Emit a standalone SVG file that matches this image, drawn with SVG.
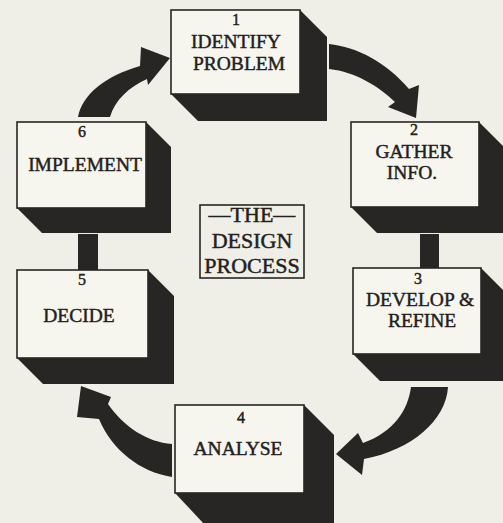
<svg xmlns="http://www.w3.org/2000/svg" width="503" height="523" viewBox="0 0 503 523">
<style>
.bg{fill:#efefe7}
.sh{fill:#282624}
.fr{fill:#f6f6ef;stroke:#282624;stroke-width:1.6}
.cn{fill:#282624}
text{font-family:"Liberation Serif","Times New Roman",serif;fill:#232120;stroke:#232120;stroke-width:0.45;text-anchor:middle}
.num{font-size:16px}
.lb{font-size:19.5px}
.ct{font-size:22px}
</style>
<rect class="bg" x="0" y="0" width="503" height="523"/>
<g id="connectors">
  <path class="cn" d="M78,117 C82,95 105,76 140,66 L141,47 L170,58 L148,85 L147,79 C129,87 115,100 110,117 Z"/>
  <path class="cn" d="M329,44 C357,47 386,62 409,89 L419,85 L416,118 L388,107 L395,102 C378,86 356,72 329,69 Z"/>
  <rect class="cn" x="420" y="234" width="19" height="35"/>
  <path class="cn" d="M448,387 C446,420 412,450 364,459 L362,475 L336,454 L358,433 L363,443 C394,432 408,410 411,387 Z"/>
  <path class="cn" d="M172,477 C140,472 112,450 99,419 L77,417 L81,386 L111,397 L108,404 C124,427 147,442 172,444 Z"/>
  <rect class="cn" x="78" y="234" width="20" height="37"/>
</g>
<g id="node1">
  <polygon class="sh" points="300,10 327,37 327,121 198,121 171,94"/>
  <rect class="fr" x="171" y="10" width="129" height="84"/>
  <text class="num" x="236" y="25">1</text>
  <text class="lb" x="236" y="48">IDENTIFY</text>
  <text class="lb" x="239" y="70">PROBLEM</text>
</g>
<g id="node2">
  <polygon class="sh" points="479,122 505,148 505,233 377,233 351,207"/>
  <rect class="fr" x="351" y="122" width="128" height="85"/>
  <text class="num" x="414" y="135">2</text>
  <text class="lb" x="414" y="158">GATHER</text>
  <text class="lb" x="412" y="179">INFO.</text>
</g>
<g id="node3">
  <polygon class="sh" points="481,268 508,295 508,381 380,381 353,354"/>
  <rect class="fr" x="353" y="268" width="128" height="86"/>
  <text class="num" x="418" y="284">3</text>
  <text class="lb" x="420" y="306">DEVELOP &amp;</text>
  <text class="lb" x="422" y="327">REFINE</text>
</g>
<g id="node4">
  <polygon class="sh" points="304,405 334,435 334,525 205,525 175,493"/>
  <rect class="fr" x="175" y="405" width="129" height="88"/>
  <text class="num" x="241" y="423">4</text>
  <text class="lb" x="238" y="455">ANALYSE</text>
</g>
<g id="node5">
  <polygon class="sh" points="148,270 174,296 174,384 43,384 17,358"/>
  <rect class="fr" x="17" y="270" width="131" height="88"/>
  <text class="num" x="82" y="285">5</text>
  <text class="lb" x="79" y="322">DECIDE</text>
</g>
<g id="node6">
  <polygon class="sh" points="146,122 171,147 171,233 42,233 17,208"/>
  <rect class="fr" x="17" y="122" width="129" height="86"/>
  <text class="num" x="82" y="137">6</text>
  <text class="lb" x="85" y="171">IMPLEMENT</text>
</g>
<g id="center">
  <rect class="fr" x="200" y="205" width="104" height="73" style="fill:none"/>
  <text class="ct" x="252" y="222">—THE—</text>
  <text class="ct" x="252" y="248">DESIGN</text>
  <text class="ct" x="252" y="273">PROCESS</text>
</g>
</svg>
